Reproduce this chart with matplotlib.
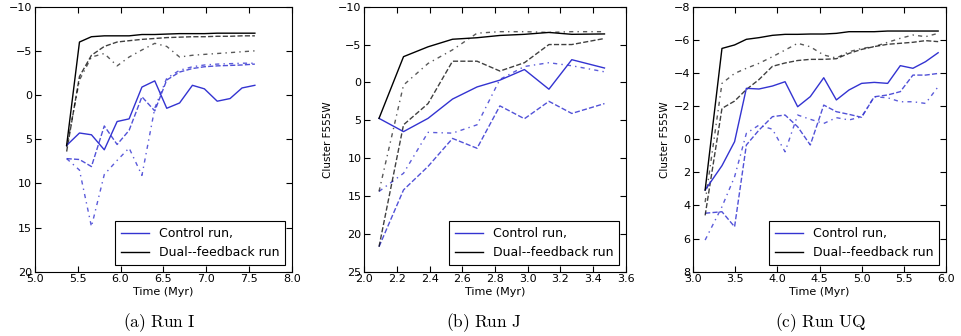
import matplotlib
matplotlib.use("Agg")
import matplotlib.pyplot as plt

# Run I
t_I = [5.37, 5.52, 5.66, 5.81, 5.96, 6.10, 6.25, 6.40, 6.54, 6.69, 6.84, 6.98, 7.13, 7.28, 7.42, 7.57]
ctrl_solid_I = [5.7, 4.3, 4.5, 6.2, 3.0, 2.7, -0.9, -1.6, 1.5, 0.9, -1.1, -0.7, 0.7, 0.4, -0.8, -1.1]
ctrl_dash_I = [7.2, 7.3, 8.1, 3.5, 5.6, 4.0, 0.2, 1.8, -1.7, -2.6, -3.0, -3.2, -3.3, -3.35, -3.4, -3.5]
ctrl_dot_I = [7.2, 8.5, 14.9, 9.0, 7.4, 6.0, 9.1, 1.5, -1.9, -2.8, -3.2, -3.4, -3.5, -3.55, -3.6, -3.6]
dual_solid_I = [5.7, -6.0, -6.6, -6.7, -6.7, -6.7, -6.85, -6.85, -6.9, -6.95, -6.95, -6.95, -7.0, -7.0, -7.0, -7.0]
dual_dash_I = [6.4, -2.1, -4.5, -5.5, -6.0, -6.15, -6.3, -6.4, -6.5, -6.55, -6.6, -6.6, -6.65, -6.65, -6.7, -6.7]
dual_dot_I = [5.9, -1.7, -4.3, -4.7, -3.3, -4.3, -5.1, -5.85, -5.5, -4.3, -4.5, -4.6, -4.7, -4.8, -4.9, -5.0]

# Run J
t_J = [2.09, 2.24, 2.39, 2.54, 2.69, 2.83, 2.98, 3.13, 3.27, 3.47]
ctrl_solid_J = [4.75, 6.5, 4.75, 2.2, 0.6, -0.3, -1.7, 0.9, -3.0, -1.9]
ctrl_dash_J = [21.7, 14.2, 11.1, 7.4, 8.7, 3.1, 4.8, 2.5, 4.1, 2.8]
ctrl_dot_J = [14.4, 12.0, 6.6, 6.7, 5.6, -0.4, -2.1, -2.6, -2.2, -1.4]
dual_solid_J = [4.75, -3.4, -4.7, -5.7, -5.9, -6.2, -6.35, -6.6, -6.35, -6.4]
dual_dash_J = [21.7, 5.6, 2.8, -2.8, -2.8, -1.5, -2.6, -5.0, -5.0, -5.8]
dual_dot_J = [14.4, 0.35, -2.5, -4.3, -6.5, -6.7, -6.7, -6.6, -6.7, -6.7]

# Run UQ
t_UQ = [3.14, 3.34, 3.49, 3.63, 3.78, 3.94, 4.09, 4.24, 4.39, 4.55, 4.70, 4.85, 5.00, 5.15, 5.31, 5.46, 5.61, 5.76, 5.91]
ctrl_solid_UQ = [3.07, 1.6, 0.15, -3.07, -3.03, -3.21, -3.47, -1.96, -2.57, -3.71, -2.37, -2.97, -3.37, -3.43, -3.37, -4.44, -4.28, -4.68, -5.22]
ctrl_dash_UQ = [4.47, 4.38, 5.29, 0.35, -0.55, -1.36, -1.46, -0.75, 0.35, -2.06, -1.66, -1.5, -1.32, -2.56, -2.67, -2.87, -3.87, -3.87, -3.97]
ctrl_dot_UQ = [6.09, 4.08, 2.27, -0.35, -0.85, -0.6, 0.76, -1.46, -1.2, -0.95, -1.3, -1.16, -1.35, -2.56, -2.5, -2.26, -2.26, -2.16, -3.17]
dual_solid_UQ = [3.07, -5.48, -5.69, -6.03, -6.13, -6.27, -6.33, -6.33, -6.35, -6.35, -6.39, -6.49, -6.49, -6.49, -6.53, -6.53, -6.53, -6.53, -6.53]
dual_dash_UQ = [4.6, -1.86, -2.3, -3.0, -3.6, -4.4, -4.6, -4.75, -4.82, -4.82, -4.86, -5.18, -5.42, -5.59, -5.73, -5.79, -5.85, -5.95, -5.89]
dual_dot_UQ = [3.8, -3.37, -3.97, -4.28, -4.58, -4.98, -5.38, -5.79, -5.58, -5.08, -4.9, -5.28, -5.48, -5.59, -5.85, -6.09, -6.29, -6.19, -6.39]

captions = ["(a)\\ Run\\ I", "(b)\\ Run\\ J", "(c)\\ Run\\ UQ"]

plt.rcParams["mathtext.fontset"] = "cm"
plt.rcParams["font.family"] = "DejaVu Sans"

BLUE = (0.2, 0.2, 0.82)
DOT = (0, (3, 3, 1, 3))

fig = plt.figure(figsize=(9.61, 3.36), dpi=100)
boxes = [
    [0.0364, 0.1914, 0.2671, 0.7887],
    [0.3791, 0.1914, 0.2720, 0.7887],
    [0.7215, 0.1914, 0.2626, 0.7887],
]

panels = [
    (t_I, ctrl_solid_I, ctrl_dash_I, ctrl_dot_I, dual_solid_I, dual_dash_I, dual_dot_I),
    (t_J, ctrl_solid_J, ctrl_dash_J, ctrl_dot_J, dual_solid_J, dual_dash_J, dual_dot_J),
    (t_UQ, ctrl_solid_UQ, ctrl_dash_UQ, ctrl_dot_UQ, dual_solid_UQ, dual_dash_UQ, dual_dot_UQ),
]
xlims = [(5.0, 8.0), (2.0, 3.6), (3.0, 6.0)]
ylims = [(20, -10), (25, -10), (8, -8)]
xticks = [[5.0, 5.5, 6.0, 6.5, 7.0, 7.5, 8.0],
          [2.0, 2.2, 2.4, 2.6, 2.8, 3.0, 3.2, 3.4, 3.6],
          [3.0, 3.5, 4.0, 4.5, 5.0, 5.5, 6.0]]
yticks = [[-10, -5, 0, 5, 10, 15, 20],
          [-10, -5, 0, 5, 10, 15, 20, 25],
          [-8, -6, -4, -2, 0, 2, 4, 6, 8]]
ylab_x = [-0.125, -0.12, -0.092]
cap_x = [159, 484, 821]

for i, (t, cs, cd, cdd, ds, dd, ddd) in enumerate(panels):
    ax = fig.add_axes(boxes[i])
    ax.plot(t, cd, color=BLUE, lw=1, ls="--", alpha=0.85)
    ax.plot(t, cdd, color=BLUE, lw=1, ls=DOT, alpha=0.8)
    ax.plot(t, dd, color="k", lw=1, ls="--", alpha=0.75)
    ax.plot(t, ddd, color="k", lw=1, ls=DOT, alpha=0.65)
    ax.plot(t, cs, color=BLUE, lw=1, label="Control run,")
    ax.plot(t, ds, color="k", lw=1, label="Dual--feedback run")
    ax.set_xlim(*xlims[i])
    ax.set_ylim(*ylims[i])
    ax.set_xticks(xticks[i])
    ax.set_yticks(yticks[i])
    ax.set_xticklabels(["%.1f" % v for v in xticks[i]])
    ax.tick_params(direction="in", top=True, right=True, labelsize=8, length=4, pad=2)
    ax.set_xlabel("Time (Myr)", fontsize=8, labelpad=2)
    ax.set_ylabel("Cluster F555W", fontsize=7.5)
    ax.yaxis.set_label_coords(ylab_x[i], 0.5)
    leg = ax.legend(loc="lower right", fontsize=9, fancybox=False, framealpha=1,
                    edgecolor="k", handlelength=2.2, borderpad=0.5)
    leg.get_frame().set_linewidth(0.8)
    fig.text(cap_x[i] / 961, 0.04, "$\\mathrm{" + captions[i] + "}$", ha="center",
             va="center", fontsize=12.5)

fig.savefig("out.png", dpi=100)
